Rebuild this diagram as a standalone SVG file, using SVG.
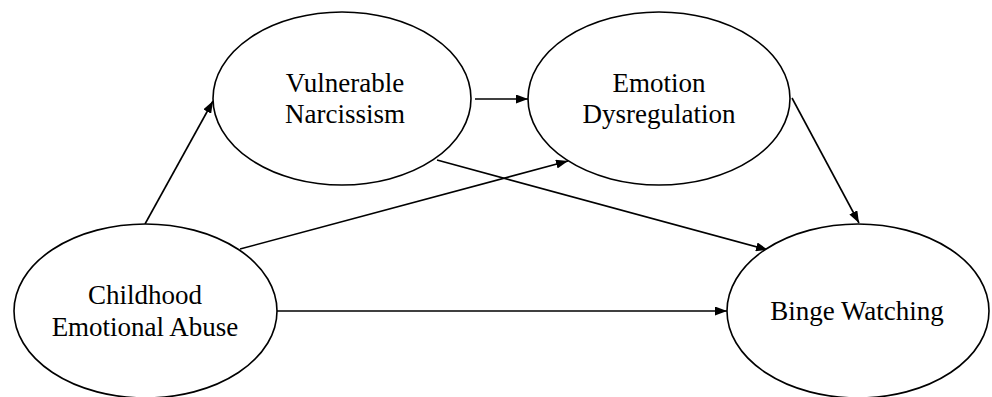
<svg xmlns="http://www.w3.org/2000/svg" width="992" height="397" viewBox="0 0 992 397">
<defs>
<marker id="ah" viewBox="0 0 12 9" refX="12" refY="4.5" markerWidth="12" markerHeight="9" markerUnits="userSpaceOnUse" orient="auto">
<path d="M0,0 L12,4.5 L0,9 Z" fill="#000"/>
</marker>
</defs>
<style>
.node ellipse{fill:#fff;stroke:#000;stroke-width:1.6}
.node text{font-family:"Liberation Serif","Times New Roman",serif;font-size:27px;fill:#000;text-anchor:middle}
.edges line{stroke:#000;stroke-width:1.6;marker-end:url(#ah)}
</style>
<rect width="992" height="397" fill="#fff"/>
<g class="edges" id="connectors">
<line x1="145" y1="224" x2="213" y2="101"/>
<line x1="475" y1="99" x2="528" y2="99"/>
<line x1="240" y1="249" x2="568" y2="161"/>
<line x1="437" y1="160" x2="768" y2="250"/>
<line x1="277" y1="311" x2="727" y2="311"/>
<line x1="792" y1="98" x2="859" y2="223"/>
</g>
<g class="node" id="childhood">
<ellipse cx="145.5" cy="311" rx="131.5" ry="87"/>
<text x="145" y="304">Childhood</text>
<text x="145" y="336">Emotional Abuse</text>
</g>
<g class="node" id="vulnerable">
<ellipse cx="342" cy="98.5" rx="129" ry="86.5"/>
<text x="345" y="92">Vulnerable</text>
<text x="345" y="123">Narcissism</text>
</g>
<g class="node" id="emotion">
<ellipse cx="659" cy="98.5" rx="131" ry="86.5"/>
<text x="659" y="92">Emotion</text>
<text x="659" y="123">Dysregulation</text>
</g>
<g class="node" id="binge">
<ellipse cx="858" cy="311" rx="131" ry="87"/>
<text x="857" y="320">Binge Watching</text>
</g>
</svg>
